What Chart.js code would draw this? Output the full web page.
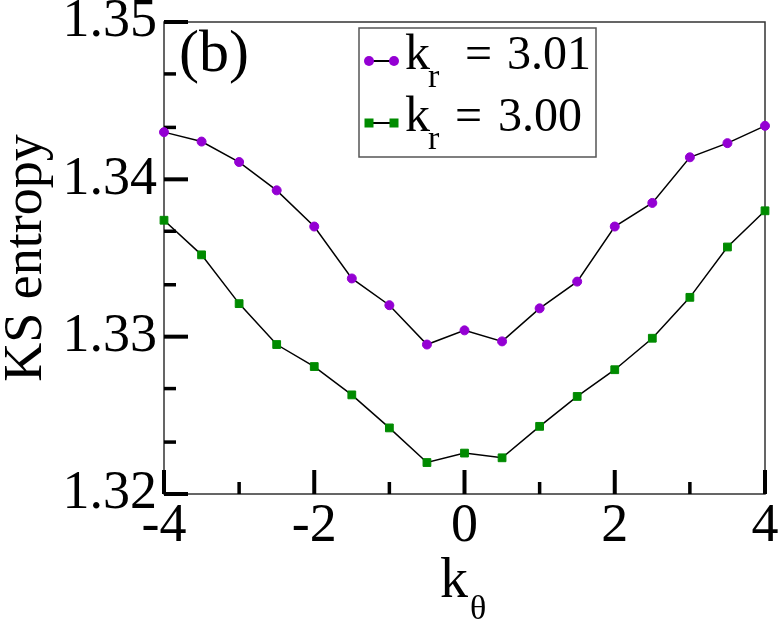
<!DOCTYPE html>
<html>
<head>
<meta charset="utf-8">
<script src="https://cdn.jsdelivr.net/npm/chart.js@4/dist/chart.umd.min.js"></script>
<style>
  html, body { margin: 0; padding: 0; background: #fff; }
  #wrap { width: 781px; height: 622px; }
  .probe { font-family: "Liberation Serif"; position: absolute; left: -999px; }
</style>
</head>
<body>
<span class="probe">1.35 KS entropy kθ</span>
<div id="wrap"><canvas id="chart" width="781" height="622"></canvas></div>
<script>
// k_theta values along the x axis
const kTheta = [-4, -3.5, -3, -2.5, -2, -1.5, -1, -0.5, 0, 0.5, 1, 1.5, 2, 2.5, 3, 3.5, 4];

// KS entropy, k_r = 3.01 (purple circles)
const ksKr301 = [1.3430, 1.3424, 1.3411, 1.3393, 1.3370, 1.3337, 1.3320, 1.3295, 1.3304,
                 1.3297, 1.3318, 1.3335, 1.3370, 1.3385, 1.3414, 1.3423, 1.3434];

// KS entropy, k_r = 3.00 (green squares)
const ksKr300 = [1.3374, 1.3352, 1.3321, 1.3295, 1.3281, 1.3263, 1.3242, 1.3220, 1.3226,
                 1.3223, 1.3243, 1.3262, 1.3279, 1.3299, 1.3325, 1.3357, 1.3380];

const legendValues = ['3.01', '3.00'];

// axis ticks
const xTicks = [-4, -2, 0, 2, 4];
const xMinor = [-3, -1, 1, 3];
const yTicks = [1.32, 1.33, 1.34, 1.35];
const yMinor = [1.3233, 1.3267, 1.3333, 1.3367, 1.3433, 1.3467];

const SERIF = '"Liberation Serif", "DejaVu Serif", serif';
const PURPLE = '#9400d3';
const GREEN = '#008b00';

// frame + inward ticks (drawn under the data)
const framePlugin = {
  id: 'frame',
  beforeDatasetsDraw(chart) {
    const { ctx, chartArea: a, scales: { x, y } } = chart;
    ctx.save();
    ctx.strokeStyle = '#333';
    ctx.lineWidth = 1.5;
    ctx.strokeRect(a.left, a.top, a.right - a.left, a.bottom - a.top);

    ctx.strokeStyle = '#000';
    const tick = (x1, y1, x2, y2, w) => {
      ctx.lineWidth = w;
      ctx.beginPath(); ctx.moveTo(x1, y1); ctx.lineTo(x2, y2); ctx.stroke();
    };
    xTicks.forEach(v => { const px = x.getPixelForValue(v); tick(px, a.bottom, px, a.bottom - 24, 4); });
    xMinor.forEach(v => { const px = x.getPixelForValue(v); tick(px, a.bottom, px, a.bottom - 12, 3.5); });
    yTicks.forEach(v => { const py = y.getPixelForValue(v); tick(a.left, py, a.left + 24, py, 4); });
    yMinor.forEach(v => { const py = y.getPixelForValue(v); tick(a.left, py, a.left + 12, py, 3.5); });
    ctx.restore();
  }
};

// legend, panel label, x title with subscripts
const textPlugin = {
  id: 'texts',
  afterDraw(chart) {
    const ctx = chart.ctx;
    ctx.save();
    ctx.fillStyle = '#000';
    ctx.textBaseline = 'alphabetic';
    ctx.textAlign = 'left';

    // panel label
    ctx.font = `60px ${SERIF}`;
    ctx.fillText('(b)', 179, 71);

    // x axis title k_theta
    ctx.font = `56px ${SERIF}`;
    ctx.fillText('k', 440, 597);
    ctx.font = `34px ${SERIF}`;
    ctx.fillText('θ', 470, 619);

    // legend box
    ctx.strokeStyle = '#555';
    ctx.lineWidth = 1.5;
    ctx.strokeRect(359, 28, 237, 129);

    const rows = [
      { y: 61, base: 69, eqX: 465, numX: 507, color: PURPLE, shape: 'circle' },
      { y: 123, base: 131, eqX: 455, numX: 498, color: GREEN, shape: 'rect' }
    ];
    rows.forEach((r, i) => {
      ctx.strokeStyle = '#000';
      ctx.lineWidth = 2;
      ctx.beginPath(); ctx.moveTo(369, r.y); ctx.lineTo(394, r.y); ctx.stroke();
      ctx.fillStyle = r.color;
      [369, 394].forEach(mx => {
        if (r.shape === 'circle') {
          ctx.beginPath(); ctx.arc(mx, r.y, 5, 0, Math.PI * 2); ctx.fill();
        } else {
          ctx.fillRect(mx - 4.5, r.y - 4.5, 9, 9);
        }
      });
      ctx.fillStyle = '#000';
      ctx.font = `50px ${SERIF}`;
      ctx.fillText('k', 405, r.base);
      ctx.font = `34px ${SERIF}`;
      ctx.fillText('r', 428, r.base + 18);
      ctx.font = `48px ${SERIF}`;
      ctx.fillText('=', r.eqX, r.base);
      ctx.fillText(legendValues[i], r.numX, r.base);
    });
    ctx.restore();
  }
};

const toPoints = vals => kTheta.map((k, i) => ({ x: k, y: vals[i] }));

function drawChart() {
  new Chart(document.getElementById('chart'), {
    type: 'scatter',
    data: {
      datasets: [
        {
          label: 'k_r = 3.01',
          data: toPoints(ksKr301),
          showLine: true,
          borderColor: '#000',
          borderWidth: 1.5,
          pointStyle: 'circle',
          pointRadius: 4.5,
          pointBorderWidth: 1,
          pointBackgroundColor: PURPLE,
          pointBorderColor: PURPLE,
          clip: false
        },
        {
          label: 'k_r = 3.00',
          data: toPoints(ksKr300),
          showLine: true,
          borderColor: '#000',
          borderWidth: 1.5,
          pointStyle: 'rect',
          pointRadius: 5.5,
          pointBorderWidth: 1,
          pointBackgroundColor: GREEN,
          pointBorderColor: GREEN,
          clip: false
        }
      ]
    },
    options: {
      responsive: false,
      animation: false,
      devicePixelRatio: 1,
      layout: { padding: { left: 0, right: 16, top: 22, bottom: 0 } },
      plugins: { legend: { display: false }, tooltip: { enabled: false } },
      scales: {
        x: {
          type: 'linear',
          min: -4, max: 4,
          grid: { display: false, drawTicks: false },
          border: { display: false },
          afterBuildTicks: s => { s.ticks = xTicks.map(v => ({ value: v })); },
          afterFit: s => { s.height = 128; s.paddingLeft = 0; s.paddingRight = 0; },
          ticks: {
            padding: 6,
            maxRotation: 0,
            autoSkip: false,
            color: '#000',
            font: { family: SERIF, size: 54, lineHeight: 1 },
            callback: v => String(v)
          }
        },
        y: {
          min: 1.32, max: 1.35,
          grid: { display: false, drawTicks: false },
          border: { display: false },
          afterBuildTicks: s => { s.ticks = yTicks.map(v => ({ value: v })); },
          afterFit: s => { s.width = 164; s.paddingTop = 0; s.paddingBottom = 0; },
          ticks: {
            padding: 7,
            color: '#000',
            font: { family: SERIF, size: 54, lineHeight: 1 },
            callback: v => Number(v).toFixed(2)
          },
          title: {
            display: true,
            text: 'KS entropy',
            color: '#000',
            padding: 0,
            font: { family: SERIF, size: 54, lineHeight: 1 }
          }
        }
      }
    },
    plugins: [framePlugin, textPlugin]
  });
}

document.fonts.load('54px "Liberation Serif"', '1.35 KS θ')
  .then(drawChart, drawChart);
</script>
</body>
</html>
